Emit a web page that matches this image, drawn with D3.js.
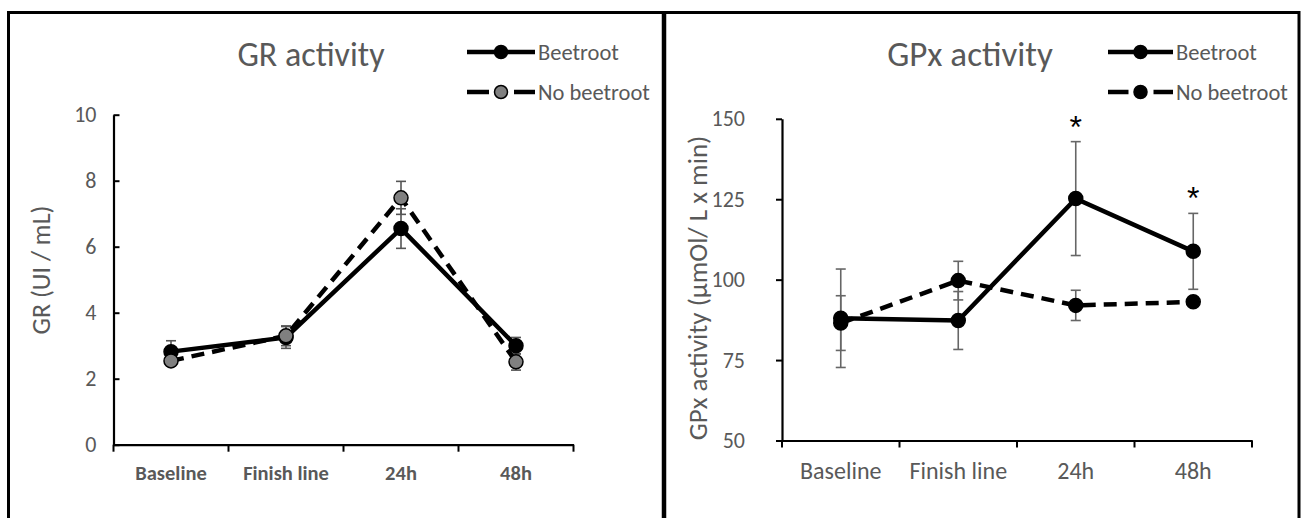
<!DOCTYPE html>
<html><head><meta charset="utf-8">
<script src="https://cdn.jsdelivr.net/npm/d3@7"></script>
<style>
html,body{margin:0;padding:0;background:#fff;}
svg{display:block;}
text{font-family:Carlito, Calibri, Lato, "Liberation Sans", sans-serif;}
</style></head>
<body>
<svg id="chart" width="1303" height="518"></svg>
<script>
const categories = ["Baseline", "Finish line", "24h", "48h"];
const series = ["Beetroot", "No beetroot"];

// GR activity (UI / mL)
const grBeetroot = [2.82, 3.25, 6.55, 3.0];
const grBeetrootErr = [0.33, 0.33, 0.6, 0.25];
const grNoBeetroot = [2.54, 3.3, 7.48, 2.51];
const grNoBeetrootErr = [0.15, 0.3, 0.5, 0.25];
const grTicks = [0, 2, 4, 6, 8, 10];

// GPx activity (µmol/ L x min)
const gpxBeetroot = [88.0, 87.3, 125.2, 108.8];
const gpxBeetrootErr = [15.3, 9.0, 17.7, 11.8];
const gpxNoBeetroot = [86.5, 99.7, 92.0, 93.1];
const gpxNoBeetrootErr = [8.5, 6.0, 4.7, 0.8];
const gpxTicks = [50, 75, 100, 125, 150];
const gpxSignificant = [false, false, true, true];

const svg = d3.select("#chart");
const GREY = "#595959";
const FONT = "Carlito, Calibri, Lato, sans-serif";

// panel frames
svg.append("path").attr("d", "M8.5,530 V12.5 H664 V530").attr("fill", "none").attr("stroke", "#000").attr("stroke-width", 3);
svg.append("path").attr("d", "M664,12.5 H1299 V530").attr("fill", "none").attr("stroke", "#000").attr("stroke-width", 3);
svg.append("line").attr("x1", 664).attr("x2", 664).attr("y1", 12).attr("y2", 518).attr("stroke", "#000").attr("stroke-width", 4.5);

function panel(cfg) {
  const g = svg.append("g");
  const x = d3.scaleBand().domain(categories).range([cfg.x0, cfg.x1]);
  const y = d3.scaleLinear().domain(cfg.domain).range([cfg.y0, cfg.y1]);

  // y axis
  const yAxis = d3.axisLeft(y).tickValues(cfg.ticks).tickSizeOuter(0)
    .tickSizeInner(cfg.yTickInside ? -6 : 6).tickPadding(cfg.yPad);
  const ya = g.append("g").attr("transform", `translate(${cfg.x0},0)`).call(yAxis);
  ya.select(".domain").attr("stroke", "#000").attr("stroke-width", 2.2);
  ya.selectAll(".tick line").attr("stroke", "#000").attr("stroke-width", 2);
  ya.selectAll(".tick text").attr("fill", GREY).attr("font-size", cfg.tickFont).style("font-family", FONT);

  // x axis
  const xAxis = d3.axisBottom(x).tickSize(0).tickSizeOuter(0).tickPadding(21);
  const xa = g.append("g").attr("transform", `translate(0,${cfg.y0})`).call(xAxis);
  xa.select(".domain").attr("stroke", "#000").attr("stroke-width", 2.2);
  xa.selectAll(".tick text").attr("fill", cfg.xLabelColor).attr("font-size", cfg.xFont)
    .attr("font-weight", cfg.xBold ? "bold" : "normal").style("font-family", FONT);
  // boundary ticks
  const bounds = categories.map(c => x(c)).concat([cfg.x1]);
  xa.selectAll(".btick").data(bounds).enter().append("line").attr("class", "btick")
    .attr("x1", d => d).attr("x2", d => d).attr("y1", 0).attr("y2", 7)
    .attr("stroke", "#000").attr("stroke-width", 2);

  const cx = c => x(c) + x.bandwidth() / 2;

  // error bars
  const drawErr = (vals, errs) => {
    categories.forEach((c, i) => {
      const xx = cx(c), lo = y(vals[i] - errs[i]), hi = y(vals[i] + errs[i]);
      g.append("line").attr("x1", xx).attr("x2", xx).attr("y1", lo).attr("y2", hi)
        .attr("stroke", cfg.errColor).attr("stroke-width", 1.6);
      [lo, hi].forEach(yy => g.append("line").attr("x1", xx - 5).attr("x2", xx + 5).attr("y1", yy).attr("y2", yy)
        .attr("stroke", cfg.errColor).attr("stroke-width", 1.6));
    });
  };
  drawErr(cfg.s1, cfg.e1);
  drawErr(cfg.s2, cfg.e2);

  const line = d3.line().x((d, i) => cx(categories[i])).y(d => y(d));
  g.append("path").attr("d", line(cfg.s2)).attr("fill", "none").attr("stroke", "#000")
    .attr("stroke-width", 4.5).attr("stroke-dasharray", "13,8");
  g.append("path").attr("d", line(cfg.s1)).attr("fill", "none").attr("stroke", "#000")
    .attr("stroke-width", 4.5);

  const drawPts = (vals, fill) => {
    g.selectAll(null).data(vals).enter().append("circle")
      .attr("cx", (d, i) => cx(categories[i])).attr("cy", d => y(d)).attr("r", 7)
      .attr("fill", fill).attr("stroke", "#000").attr("stroke-width", 1.5);
  };
  if (cfg.order === "s2first") { drawPts(cfg.s1, "#000"); drawPts(cfg.s2, cfg.fill2); }
  else { drawPts(cfg.s2, cfg.fill2); drawPts(cfg.s1, "#000"); }

  // title
  g.append("text").attr("x", cfg.titleX).attr("y", 66).attr("text-anchor", "middle")
    .attr("fill", GREY).attr("font-size", cfg.titleFont).text(cfg.title);

  // y label
  g.append("text").attr("transform", `translate(${cfg.ylabX},${cfg.ylabY}) rotate(-90)`)
    .attr("text-anchor", "middle").attr("fill", GREY).attr("font-size", cfg.ylabFont).text(cfg.ylabel);

  // legend
  const lg = g.append("g");
  const mid = (cfg.legX0 + cfg.legX1) / 2;
  series.forEach((s, i) => {
    const yy = 52 + i * 40;
    if (i === 0) {
      lg.append("line").attr("x1", cfg.legX0).attr("x2", cfg.legX1).attr("y1", yy).attr("y2", yy)
        .attr("stroke", "#000").attr("stroke-width", 4.5);
    } else {
      [[cfg.legX0, mid - 12], [mid + 13, cfg.legX1]].forEach(([a, b]) =>
        lg.append("line").attr("x1", a).attr("x2", b).attr("y1", yy).attr("y2", yy)
          .attr("stroke", "#000").attr("stroke-width", 4.5));
    }
    lg.append("circle").attr("cx", mid).attr("cy", yy).attr("r", 6.5)
      .attr("fill", i === 0 ? "#000" : cfg.fill2).attr("stroke", "#000").attr("stroke-width", 1.5);
    lg.append("text").attr("x", cfg.legX1 + 3).attr("y", yy).attr("dy", "0.35em")
      .attr("fill", GREY).attr("font-size", cfg.legFont).text(s);
  });

  if (cfg.sig) {
    categories.forEach((c, i) => {
      if (!cfg.sig[i]) return;
      g.append("text").attr("x", cx(c)).attr("y", y(cfg.s1[i] + cfg.e1[i]) - 4).attr("text-anchor", "middle")
        .attr("fill", "#000").attr("font-size", 32).style("font-family", "Liberation Sans, sans-serif").text("*");
    });
  }
  return g;
}

panel({
  x0: 113.5, x1: 573.5, y0: 444.7, y1: 114.7, domain: [0, 10], ticks: grTicks, yTickInside: true, yPad: 17,
  s1: grBeetroot, e1: grBeetrootErr, s2: grNoBeetroot, e2: grNoBeetrootErr, fill2: "#808080",
  errColor: "#555", order: "s2first",
  title: "GR activity", titleX: 311, titleFont: 34,
  ylabel: "GR (UI / mL)", ylabX: 50, ylabY: 270, ylabFont: 26,
  tickFont: 22, xFont: 20.5, xBold: true, xLabelColor: GREY,
  legX0: 467, legX1: 535, legFont: 22.5
});

panel({
  x0: 782, x1: 1252, y0: 440.5, y1: 118.8, domain: [50, 150], ticks: gpxTicks, yTickInside: false, yPad: 31,
  s1: gpxBeetroot, e1: gpxBeetrootErr, s2: gpxNoBeetroot, e2: gpxNoBeetrootErr, fill2: "#000",
  errColor: "#666", order: "s1first", sig: gpxSignificant,
  title: "GPx activity", titleX: 970, titleFont: 35,
  ylabel: "GPx activity (µmOl/ L x min)", ylabX: 707, ylabY: 288, ylabFont: 27,
  tickFont: 22, xFont: 24, xBold: false, xLabelColor: GREY,
  legX0: 1108, legX1: 1173, legFont: 22.5
});
</script>
</body></html>
